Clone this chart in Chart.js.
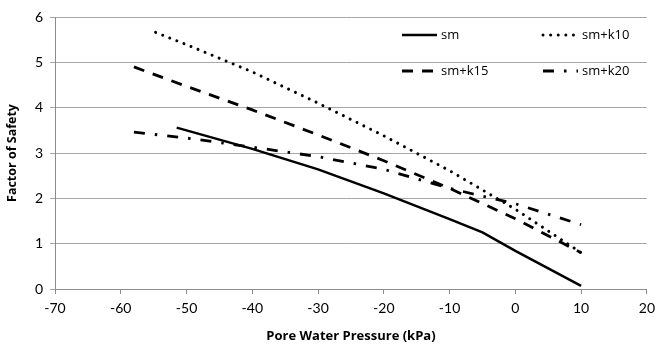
<!DOCTYPE html>
<html>
<head>
<meta charset="utf-8">
<script src="https://cdn.jsdelivr.net/npm/chart.js@4.4.0/dist/chart.umd.min.js"></script>
<style>
  html, body { margin: 0; padding: 0; background: #fff; }
  #wrap { width: 661px; height: 354px; position: relative; }
</style>
</head>
<body>
<div id="wrap"><canvas id="c" width="661" height="354"></canvas></div>
<script>
// ---- data ----
const seriesNames = ["sm", "sm+k10", "sm+k15", "sm+k20"];

const smX    = [-51.5, -40, -30, -20, -10, -5, 0, 10];
const smY    = [3.56, 3.09, 2.64, 2.11, 1.54, 1.25, 0.84, 0.07];

const k10X   = [-54.7, -50, -40, -30, -20, -10, 0, 10];
const k10Y   = [5.66, 5.39, 4.79, 4.10, 3.38, 2.61, 1.76, 0.80];

const k15X   = [-58, -50, -40, -30, -20, -10, 0, 10];
const k15Y   = [4.90, 4.47, 3.95, 3.40, 2.83, 2.22, 1.55, 0.80];

const k20X   = [-58, -50, -40, -30, -20, -10, 0, 10];
const k20Y   = [3.46, 3.33, 3.13, 2.92, 2.64, 2.22, 1.88, 1.42];

const xTicks = [-70, -60, -50, -40, -30, -20, -10, 0, 10, 20];
const yTicks = [0, 1, 2, 3, 4, 5, 6];

const xTitle = "Pore Water Pressure (kPa)";
const yTitle = "Factor of Safety";

function pts(xs, ys) { return xs.map((x, i) => ({ x: x, y: ys[i] })); }

const FONT = "Lato, 'Open Sans', sans-serif";
const FONT2 = "'Open Sans', Lato, sans-serif";

const datasets = [
  { label: seriesNames[0], data: pts(smX, smY), borderColor: "#000", borderWidth: 2.5, borderDash: [], borderCapStyle: "butt" },
  { label: seriesNames[1], data: pts(k10X, k10Y), borderColor: "#000", borderWidth: 3, borderDash: [0.01, 7.6], borderCapStyle: "round" },
  { label: seriesNames[2], data: pts(k15X, k15Y), borderColor: "#000", borderWidth: 2.8, borderDash: [11, 9], borderCapStyle: "butt" },
  { label: seriesNames[3], data: pts(k20X, k20Y), borderColor: "#000", borderWidth: 2.8, borderDash: [11, 10, 2.5, 10], borderCapStyle: "butt" }
].map(d => Object.assign(d, { showLine: true, pointRadius: 0, pointHoverRadius: 0, fill: false, tension: 0 }));

// legend drawn inside the plot area, two columns
const insideLegend = {
  id: "insideLegend",
  afterDatasetsDraw(chart) {
    const ctx = chart.ctx;
    const cols = [402, 543];
    const rows = [35, 71];
    const lineLen = 35;
    chart.data.datasets.forEach((ds, i) => {
      const x = cols[i % 2], y = rows[Math.floor(i / 2)];
      ctx.save();
      ctx.strokeStyle = ds.borderColor;
      ctx.lineWidth = ds.borderWidth;
      ctx.lineCap = ds.borderCapStyle;
      ctx.setLineDash(ds.borderDash);
      ctx.beginPath();
      ctx.moveTo(x, y);
      ctx.lineTo(x + lineLen, y);
      ctx.stroke();
      ctx.setLineDash([]);
      ctx.fillStyle = "#000";
      ctx.font = "13px " + FONT2;
      ctx.textBaseline = "middle";
      ctx.textAlign = "left";
      ctx.fillText(ds.label, x + lineLen + 4, y);
      ctx.restore();
    });
  }
};

new Chart(document.getElementById("c"), {
  type: "scatter",
  data: { datasets: datasets },
  plugins: [insideLegend],
  options: {
    responsive: false,
    animation: false,
    devicePixelRatio: 1,
    layout: { padding: { top: 17, right: 7, left: 0, bottom: 0 } },
    plugins: { legend: { display: false }, tooltip: { enabled: false } },
    scales: {
      x: {
        type: "linear",
        min: xTicks[0], max: xTicks[xTicks.length - 1],
        afterBuildTicks: s => { s.ticks = xTicks.map(v => ({ value: v })); },
        afterFit: s => { s.height = 65; },
        grid: { drawOnChartArea: false, drawTicks: true, tickLength: 5, color: "#8c8c8c", lineWidth: 1 },
        border: { display: true, color: "#8c8c8c", width: 1 },
        ticks: { color: "#000", font: { family: FONT, size: 14 }, padding: 6, maxRotation: 0, autoSkip: false },
        title: { display: true, text: xTitle, color: "#000", font: { family: FONT2, size: 13, weight: "bold" }, padding: { top: 0, bottom: 10 } }
      },
      y: {
        type: "linear",
        min: yTicks[0], max: yTicks[yTicks.length - 1],
        afterBuildTicks: s => { s.ticks = yTicks.map(v => ({ value: v })); },
        afterFit: s => { s.width = 55; },
        grid: { drawOnChartArea: true, drawTicks: true, tickLength: 5, color: "#a6a6a6", lineWidth: 1 },
        border: { display: true, color: "#8c8c8c", width: 1 },
        ticks: { color: "#000", font: { family: FONT, size: 14 }, padding: 7 },
        title: { display: true, text: yTitle, color: "#000", font: { family: FONT2, size: 12.5, weight: "bold" }, padding: { top: 5, bottom: 0 } }
      }
    }
  }
});
</script>
</body>
</html>
